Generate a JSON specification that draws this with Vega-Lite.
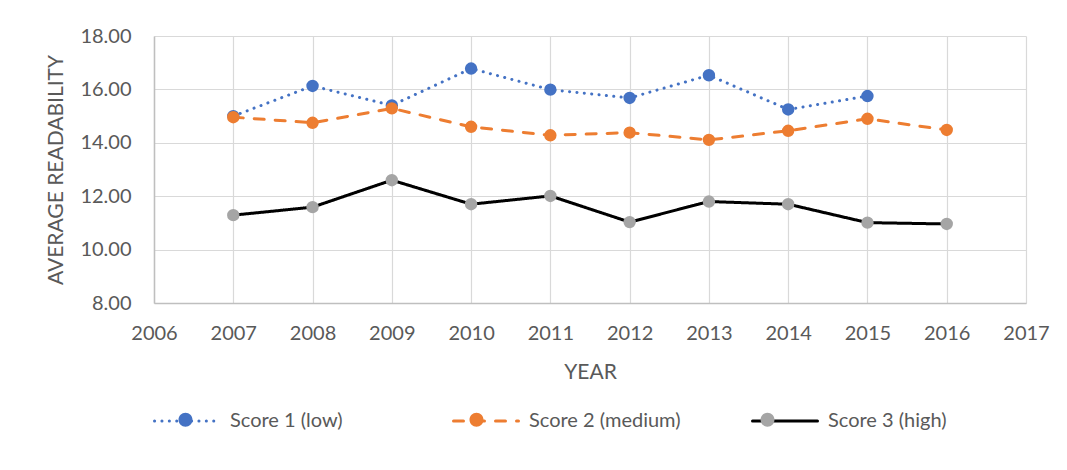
{
  "$schema": "https://vega.github.io/schema/vega-lite/v6.json",
  "width": 872,
  "height": 267,
  "autosize": {"type": "none"},
  "padding": {"left": 154, "top": 36, "right": 41, "bottom": 167},
  "background": "white",
  "config": {
    "view": {"stroke": null},
    "font": "Lato",
    "axis": {
      "labelFont": "Lato",
      "labelFontSize": 20,
      "labelColor": "#595959",
      "titleFont": "Lato",
      "titleFontSize": 21,
      "titleFontWeight": "normal",
      "titleColor": "#595959",
      "ticks": false,
      "tickSize": 0,
      "gridColor": "#D9D9D9",
      "gridWidth": 1.2,
      "domainColor": "#BFBFBF",
      "domainWidth": 1.5,
      "labelFlush": false,
      "labelOverlap": false
    }
  },
  "data": {
    "values": [
      {"year": 2007, "series": "Score 1 (low)", "score": 15.00},
      {"year": 2008, "series": "Score 1 (low)", "score": 16.13},
      {"year": 2009, "series": "Score 1 (low)", "score": 15.40},
      {"year": 2010, "series": "Score 1 (low)", "score": 16.78},
      {"year": 2011, "series": "Score 1 (low)", "score": 15.99},
      {"year": 2012, "series": "Score 1 (low)", "score": 15.68},
      {"year": 2013, "series": "Score 1 (low)", "score": 16.53},
      {"year": 2014, "series": "Score 1 (low)", "score": 15.25},
      {"year": 2015, "series": "Score 1 (low)", "score": 15.75},
      {"year": 2007, "series": "Score 2 (medium)", "score": 14.96},
      {"year": 2008, "series": "Score 2 (medium)", "score": 14.75},
      {"year": 2009, "series": "Score 2 (medium)", "score": 15.29},
      {"year": 2010, "series": "Score 2 (medium)", "score": 14.60},
      {"year": 2011, "series": "Score 2 (medium)", "score": 14.28},
      {"year": 2012, "series": "Score 2 (medium)", "score": 14.38},
      {"year": 2013, "series": "Score 2 (medium)", "score": 14.11},
      {"year": 2014, "series": "Score 2 (medium)", "score": 14.45},
      {"year": 2015, "series": "Score 2 (medium)", "score": 14.90},
      {"year": 2016, "series": "Score 2 (medium)", "score": 14.48},
      {"year": 2007, "series": "Score 3 (high)", "score": 11.29},
      {"year": 2008, "series": "Score 3 (high)", "score": 11.59},
      {"year": 2009, "series": "Score 3 (high)", "score": 12.60},
      {"year": 2010, "series": "Score 3 (high)", "score": 11.70},
      {"year": 2011, "series": "Score 3 (high)", "score": 12.01},
      {"year": 2012, "series": "Score 3 (high)", "score": 11.03},
      {"year": 2013, "series": "Score 3 (high)", "score": 11.80},
      {"year": 2014, "series": "Score 3 (high)", "score": 11.70},
      {"year": 2015, "series": "Score 3 (high)", "score": 11.01},
      {"year": 2016, "series": "Score 3 (high)", "score": 10.96}
    ]
  },
  "encoding": {
    "x": {
      "field": "year",
      "type": "quantitative",
      "scale": {"domain": [2006, 2017], "nice": false, "zero": false},
      "axis": {
        "values": [2006, 2007, 2008, 2009, 2010, 2011, 2012, 2013, 2014, 2015, 2016, 2017],
        "format": "d",
        "title": "YEAR",
        "labelPadding": 20,
        "titlePadding": 18,
        "grid": true
      }
    },
    "y": {
      "field": "score",
      "type": "quantitative",
      "scale": {"domain": [8, 18], "nice": false, "zero": false},
      "axis": {
        "values": [8, 10, 12, 14, 16, 18],
        "format": ".2f",
        "title": "AVERAGE READABILITY",
        "labelPadding": 23,
        "titlePadding": 13,
        "grid": true
      }
    }
  },
  "layer": [
    {
      "mark": {"type": "line", "strokeWidth": 3, "strokeCap": "round", "strokeJoin": "round"},
      "encoding": {
        "stroke": {
          "field": "series",
          "type": "nominal",
          "scale": {"range": ["#4472C4", "#ED7D31", "#000000"]},
          "legend": {
            "orient": "none",
            "legendX": -1,
            "legendY": 351,
            "direction": "horizontal",
            "title": null,
            "symbolType": "M-1,0H1",
            "symbolSize": 4225,
            "symbolStrokeWidth": 3,
            "labelFont": "Lato",
            "labelFontSize": 20,
            "labelColor": "#595959",
            "labelOffset": 9,
            "gridAlign": "all",
            "columnPadding": 65,
            "labelLimit": 400,
            "encode": {"symbols": {"update": {"strokeCap": {"value": "round"}}}}
          }
        },
        "strokeDash": {
          "field": "series",
          "type": "nominal",
          "scale": {"range": [[0.1, 7.3], [10, 11], [1, 0]]},
          "legend": {
            "orient": "none",
            "legendX": -1,
            "legendY": 351,
            "direction": "horizontal",
            "title": null,
            "symbolType": "M-1,0H1",
            "symbolSize": 4225,
            "symbolStrokeWidth": 3,
            "labelFont": "Lato",
            "labelFontSize": 20,
            "labelColor": "#595959",
            "labelOffset": 9,
            "gridAlign": "all",
            "columnPadding": 65,
            "labelLimit": 400,
            "encode": {"symbols": {"update": {"strokeCap": {"value": "round"}}}}
          }
        }
      }
    },
    {
      "transform": [{"filter": "isValid(datum.score)"}],
      "mark": {"type": "point", "shape": "circle", "filled": true, "size": 154, "opacity": 1, "strokeWidth": 0},
      "encoding": {
        "fill": {
          "field": "series",
          "type": "nominal",
          "scale": {"range": ["#4472C4", "#ED7D31", "#A5A5A5"]},
          "legend": {
            "orient": "none",
            "legendX": -1,
            "legendY": 351,
            "direction": "horizontal",
            "title": null,
            "symbolType": "M-1,0H1M-0.215,0A0.215,0.215,0,1,0,0.215,0A0.215,0.215,0,1,0,-0.215,0Z",
            "symbolSize": 4225,
            "symbolStrokeWidth": 0,
            "symbolOpacity": 1,
            "labelExpr": "''",
            "labelFontSize": 20,
            "labelOffset": 9,
            "gridAlign": "all",
            "columnPadding": 217,
            "labelLimit": 400
          }
        }
      }
    }
  ]
}
